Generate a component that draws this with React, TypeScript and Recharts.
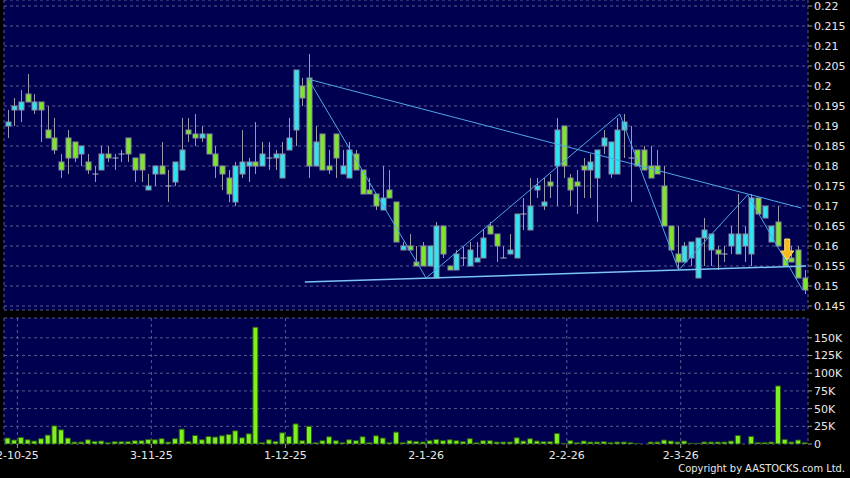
import React from 'react';
import { ComposedChart, Bar, XAxis, YAxis, CartesianGrid, ReferenceLine, ReferenceDot } from 'recharts';

const opens = [
  0.190, 0.194, 0.194, 0.198, 0.194, 0.196, 0.189, 0.187, 0.181, 0.187,
  0.186, 0.183, 0.181, 0.178, 0.179, 0.183, 0.182, 0.183, 0.187, 0.182,
  0.183, 0.174, 0.178, 0.180, 0.175, 0.176, 0.179, 0.189, 0.188, 0.187,
  0.188, 0.183, 0.180, 0.177, 0.171, 0.178, 0.180, 0.181, 0.180, 0.182,
  0.182, 0.177, 0.184, 0.189, 0.200, 0.202, 0.180, 0.188, 0.180, 0.188,
  0.178, 0.177, 0.183, 0.179, 0.174, 0.173, 0.169, 0.174, 0.171, 0.159,
  0.160, 0.156, 0.160, 0.155, 0.152, 0.165, 0.155, 0.154, 0.157, 0.155,
  0.156, 0.157, 0.165, 0.163, 0.157, 0.158, 0.157, 0.168, 0.164, 0.174,
  0.170, 0.176, 0.180, 0.190, 0.177, 0.176, 0.180, 0.179, 0.177, 0.185,
  0.178, 0.178, 0.189, 0.182, 0.184, 0.184, 0.180, 0.180, 0.175, 0.165,
  0.158, 0.156, 0.157, 0.152, 0.162, 0.159, 0.159, 0.158, 0.160, 0.158,
  0.160, 0.158, 0.172, 0.167, 0.161, 0.166, 0.158, 0.157, 0.159, 0.152,
];
const highs = [
  0.194, 0.197, 0.199, 0.203, 0.198, 0.196, 0.195, 0.192, 0.183, 0.189,
  0.186, 0.185, 0.183, 0.180, 0.185, 0.185, 0.183, 0.184, 0.187, 0.182,
  0.183, 0.178, 0.180, 0.186, 0.179, 0.181, 0.192, 0.192, 0.193, 0.190,
  0.188, 0.185, 0.180, 0.179, 0.181, 0.189, 0.182, 0.191, 0.186, 0.186,
  0.184, 0.186, 0.192, 0.204, 0.202, 0.208, 0.190, 0.188, 0.184, 0.188,
  0.184, 0.186, 0.184, 0.179, 0.177, 0.173, 0.180, 0.179, 0.171, 0.161,
  0.163, 0.160, 0.161, 0.160, 0.166, 0.165, 0.155, 0.159, 0.160, 0.161,
  0.161, 0.164, 0.166, 0.163, 0.160, 0.163, 0.168, 0.172, 0.177, 0.177,
  0.177, 0.178, 0.192, 0.190, 0.178, 0.179, 0.182, 0.183, 0.184, 0.189,
  0.186, 0.192, 0.193, 0.190, 0.184, 0.185, 0.185, 0.184, 0.180, 0.165,
  0.165, 0.161, 0.161, 0.162, 0.167, 0.163, 0.160, 0.160, 0.165, 0.173,
  0.165, 0.173, 0.172, 0.170, 0.165, 0.170, 0.158, 0.160, 0.160, 0.154,
];
const lows = [
  0.187, 0.190, 0.191, 0.196, 0.193, 0.186, 0.187, 0.183, 0.177, 0.178,
  0.181, 0.180, 0.178, 0.176, 0.179, 0.181, 0.179, 0.181, 0.181, 0.176,
  0.176, 0.174, 0.175, 0.178, 0.171, 0.175, 0.179, 0.186, 0.185, 0.186,
  0.183, 0.177, 0.174, 0.171, 0.170, 0.177, 0.176, 0.178, 0.180, 0.179,
  0.179, 0.177, 0.184, 0.185, 0.195, 0.177, 0.180, 0.179, 0.178, 0.177,
  0.178, 0.177, 0.179, 0.173, 0.173, 0.169, 0.169, 0.172, 0.161, 0.159,
  0.159, 0.155, 0.155, 0.155, 0.152, 0.157, 0.154, 0.154, 0.155, 0.155,
  0.156, 0.157, 0.163, 0.156, 0.157, 0.158, 0.157, 0.164, 0.164, 0.172,
  0.169, 0.172, 0.170, 0.177, 0.170, 0.168, 0.172, 0.172, 0.166, 0.183,
  0.177, 0.178, 0.182, 0.171, 0.180, 0.179, 0.177, 0.178, 0.165, 0.159,
  0.154, 0.156, 0.155, 0.152, 0.155, 0.155, 0.154, 0.156, 0.158, 0.158,
  0.156, 0.155, 0.168, 0.167, 0.161, 0.160, 0.155, 0.156, 0.152, 0.148,
];
const closes = [
  0.191, 0.195, 0.196, 0.196, 0.196, 0.194, 0.187, 0.184, 0.179, 0.182,
  0.182, 0.185, 0.179, 0.178, 0.183, 0.182, 0.182, 0.183, 0.183, 0.179,
  0.179, 0.175, 0.180, 0.178, 0.175, 0.181, 0.184, 0.188, 0.187, 0.188,
  0.183, 0.180, 0.178, 0.173, 0.180, 0.181, 0.181, 0.180, 0.183, 0.182,
  0.183, 0.183, 0.187, 0.204, 0.197, 0.180, 0.186, 0.179, 0.179, 0.182,
  0.180, 0.184, 0.179, 0.173, 0.173, 0.170, 0.172, 0.172, 0.161, 0.160,
  0.159, 0.155, 0.155, 0.160, 0.165, 0.158, 0.154, 0.158, 0.157, 0.159,
  0.157, 0.162, 0.163, 0.160, 0.157, 0.159, 0.168, 0.168, 0.170, 0.175,
  0.171, 0.175, 0.189, 0.180, 0.174, 0.175, 0.179, 0.181, 0.184, 0.187,
  0.186, 0.189, 0.191, 0.182, 0.180, 0.179, 0.177, 0.178, 0.165, 0.159,
  0.156, 0.160, 0.161, 0.162, 0.164, 0.163, 0.158, 0.158, 0.163, 0.163,
  0.163, 0.172, 0.168, 0.170, 0.165, 0.160, 0.155, 0.156, 0.152, 0.149,
];
const volumesK = [
  8.4, 5.6, 9.3, 6, 4.2, 7.5, 12.6, 25.6, 20, 8.4,
  2.8, 2.8, 6, 3.7, 4.2, 1.9, 3.3, 3.3, 3.3, 4.7,
  4.7, 6.5, 6, 7.5, 2.8, 7.5, 21, 3.7, 12, 6,
  10.7, 9.8, 11.6, 13.5, 18.6, 8.8, 14.4, 165, 1.9, 6,
  3.7, 15.8, 10.7, 28.4, 4.7, 25, 1.9, 4.7, 10.2, 4.7,
  1.9, 6, 4.7, 10.2, 1.9, 11.6, 8.4, 1.9, 16.8, 1.9,
  4.7, 3.7, 2.8, 4.7, 6.5, 4.7, 6, 4.7, 3.3, 7.5,
  1.9, 4.7, 4.7, 2.8, 2.8, 2.8, 8.8, 4.2, 7.5, 4.2,
  3.3, 3.3, 14.9, 1, 4.7, 1.9, 4.2, 2.8, 2.8, 3.3,
  1.9, 2.8, 2.8, 1.9, 0.5, 0, 2.8, 2.8, 5.6, 4.2,
  2.8, 4.2, 1, 1, 2.8, 2.8, 2.8, 2.8, 4.2, 12,
  0, 10.7, 1.9, 1.9, 2.8, 82, 6.5, 2.8, 5.6, 1.9,
];

const dateTicks = [1.5, 21.5, 41.5, 62.5, 83.5, 100.5];
const dateLabels = ['2-10-25', '3-11-25', '1-12-25', '2-1-26', '2-2-26', '2-3-26'];
const priceTicks = [0.145, 0.15, 0.155, 0.16, 0.165, 0.17, 0.175, 0.18, 0.185, 0.19, 0.195, 0.2, 0.205, 0.21, 0.215, 0.22];
const volumeTicks = [0, 25000, 50000, 75000, 100000, 125000, 150000];

// trend annotations (candle index, price)
const zigzag = [
  { x: 44.9, y: 0.2018 }, { x: 62.5, y: 0.152 }, { x: 91.4, y: 0.193 },
  { x: 100.2, y: 0.154 }, { x: 110.5, y: 0.1728 }, { x: 118.7, y: 0.149 },
];
const upperLine = [{ x: 44.7, y: 0.2018 }, { x: 118.5, y: 0.1695 }];
const lowerLine = [{ x: 44.4, y: 0.151 }, { x: 119.2, y: 0.155 }];
const signal = { x: 116.4, y: 0.159 };

const rows = opens.map((o, i) => ({
  i, o, h: highs[i], l: lows[i], c: closes[i], v: volumesK[i] * 1000,
}));

const NAVY = '#000050';
const GRID = '#5a5a90';
const CYAN = '#2ee4f0';
const GREEN = '#7ee62a';
const FONT = 'DejaVu Sans';

const Candle = (props: any) => {
  const { x, y, width, height, payload } = props;
  if (!payload) return null;
  const { o, h, l, c } = payload;
  const top = Math.min(y, y + height);
  const bot = Math.max(y, y + height);
  const cx = Math.round(x + width / 2) + 0.5;
  const span = h - l;
  const py = (v: number) => (span === 0 ? top : top + ((h - v) / span) * (bot - top));
  const color = c > o ? CYAN : c < o ? GREEN : null;
  const yo = py(o);
  const yc = py(c);
  return (
    <g>
      <line x1={cx} x2={cx} y1={top} y2={bot} stroke="#9a9aaa" strokeWidth={1} />
      {color ? (
        <rect
          x={cx - 2.5}
          y={Math.min(yo, yc)}
          width={5}
          height={Math.max(1, Math.abs(yo - yc))}
          fill={color}
          stroke="#8a8aa0"
          strokeWidth={1}
        />
      ) : (
        <line x1={cx - 3} x2={cx + 3} y1={yo} y2={yo} stroke="#b4b4c0" strokeWidth={1} />
      )}
    </g>
  );
};

const Arrow = (props: any) => {
  const { cx, cy } = props;
  if (cx == null || cy == null) return null;
  const pts = [
    [cx - 2.5, cy - 11], [cx + 2.5, cy - 11], [cx + 2.5, cy + 1], [cx + 6.5, cy + 1],
    [cx, cy + 10], [cx - 6.5, cy + 1], [cx - 2.5, cy + 1],
  ].map((p) => p.join(',')).join(' ');
  return <polygon points={pts} fill="#f7b81c" stroke="#ffe070" strokeWidth={1} />;
};

const fmtPrice = (v: number) => String(Number(v.toFixed(3)));
const fmtVol = (v: number) => (v === 0 ? '0' : `${v / 1000}K`);
const fmtDate = (v: number) => {
  const k = dateTicks.indexOf(v);
  return k >= 0 ? dateLabels[k] : '';
};

const tickStyle = { fill: '#e8e8e8', fontSize: 11, fontFamily: FONT };

export default function App() {
  const trendStroke = '#4ea6e6';
  return (
    <div style={{ position: 'absolute', left: 0, top: 0, width: 850, height: 478, background: '#000', overflow: 'hidden' }}>
      <div style={{ position: 'absolute', left: 0, top: 0 }}>
        <ComposedChart width={850} height={318} data={rows} margin={{ top: 0, right: 0, bottom: 8, left: 4 }}>
          <CartesianGrid fill={NAVY} stroke={GRID} strokeDasharray="3 3" />
          <XAxis
            type="number"
            dataKey="i"
            domain={[-0.5, 119.5]}
            ticks={dateTicks}
            interval={0}
            height={0}
            tick={false}
            tickLine={false}
            axisLine={false}
            allowDataOverflow
          />
          <YAxis
            orientation="right"
            width={42}
            domain={[0.144, 0.2215]}
            ticks={priceTicks}
            interval={0}
            tickFormatter={fmtPrice}
            tick={tickStyle}
            tickLine={{ stroke: '#9a9a9a' }}
            tickSize={4}
            tickMargin={2}
            axisLine={false}
            allowDataOverflow
          />
          <Bar dataKey={(d: any) => [d.l, d.h]} barSize={5} shape={Candle} isAnimationActive={false} />
          <ReferenceLine segment={upperLine} stroke={trendStroke} strokeWidth={1} />
          <ReferenceLine segment={lowerLine} stroke="#7cc4f4" strokeWidth={1.5} />
          {zigzag.slice(1).map((p, k) => (
            <ReferenceLine key={k} segment={[zigzag[k], p]} stroke={trendStroke} strokeWidth={1} />
          ))}
          <ReferenceDot x={signal.x} y={signal.y} shape={Arrow} />
        </ComposedChart>
      </div>
      <div style={{ position: 'absolute', left: 0, top: 312 }}>
        <ComposedChart width={850} height={166} data={rows} margin={{ top: 6, right: 0, bottom: 0, left: 4 }}>
          <CartesianGrid fill={NAVY} stroke={GRID} strokeDasharray="3 3" />
          <XAxis
            type="number"
            dataKey="i"
            domain={[-0.5, 119.5]}
            ticks={dateTicks}
            interval={0}
            height={34}
            tickFormatter={fmtDate}
            tick={tickStyle}
            tickLine={{ stroke: '#9a9a9a' }}
            tickSize={4}
            tickMargin={3}
            axisLine={false}
            allowDataOverflow
          />
          <YAxis
            orientation="right"
            width={42}
            domain={[0, 178000]}
            ticks={volumeTicks}
            interval={0}
            tickFormatter={fmtVol}
            tick={tickStyle}
            tickLine={{ stroke: '#9a9a9a' }}
            tickSize={4}
            tickMargin={2}
            axisLine={false}
            allowDataOverflow
          />
          <Bar dataKey="v" barSize={5} fill="#7ef020" stroke="#2a5a10" strokeWidth={1} isAnimationActive={false} />
        </ComposedChart>
      </div>
      <div
        style={{
          position: 'absolute', right: 5, top: 462, fontSize: 11, color: '#e8e8e8',
          fontFamily: "'DejaVu Sans Condensed', 'DejaVu Sans'", whiteSpace: 'nowrap',
        }}
      >
        Copyright by AASTOCKS.com Ltd.
      </div>
    </div>
  );
}
